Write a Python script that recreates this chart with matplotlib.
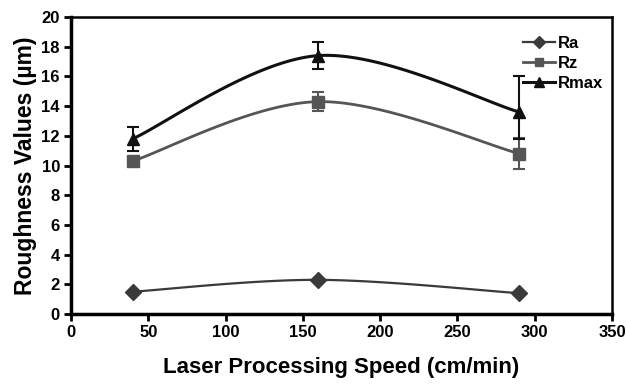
import matplotlib.pyplot as plt
import numpy as np

# data
speed = [40, 160, 290]
ra = [1.5, 2.3, 1.4]
rz = [10.3, 14.3, 10.8]
rmax = [11.8, 17.4, 13.6]
rz_err_lo = [0.0, 0.65, 1.05]
rz_err_hi = [0.0, 0.65, 1.05]
rmax_err_lo = [0.8, 0.9, 1.8]
rmax_err_hi = [0.8, 0.9, 2.4]

plt.rcParams['font.family'] = ['Liberation Sans', 'DejaVu Sans']
plt.rcParams['font.weight'] = 'bold'


def smooth(xs, ys, n=60):
    # excel style smoothed line (bezier with catmull-rom tangents)
    xs = np.asarray(xs, float)
    ys = np.asarray(ys, float)
    px = np.concatenate([[xs[0]], xs, [xs[-1]]])
    py = np.concatenate([[ys[0]], ys, [ys[-1]]])
    outx, outy = [], []
    t = np.linspace(0, 1, n)
    for i in range(1, len(px) - 2):
        p0 = np.array([px[i], py[i]])
        p3 = np.array([px[i + 1], py[i + 1]])
        p1 = p0 + (np.array([px[i + 1], py[i + 1]]) - np.array([px[i - 1], py[i - 1]])) / 6
        p2 = p3 - (np.array([px[i + 2], py[i + 2]]) - np.array([px[i], py[i]])) / 6
        b = ((1 - t) ** 3)[:, None] * p0 + (3 * (1 - t) ** 2 * t)[:, None] * p1 \
            + (3 * (1 - t) * t ** 2)[:, None] * p2 + (t ** 3)[:, None] * p3
        outx.extend(b[:, 0])
        outy.extend(b[:, 1])
    return outx, outy


fig = plt.figure(figsize=(6.26, 3.88), dpi=100)
ax = fig.add_axes([71 / 626, 74 / 388, 541 / 626, 297 / 388])

series = [
    (ra, None, None, 'D', '#3a3a3a', 1.6, 8, 'Ra'),
    (rz, rz_err_lo, rz_err_hi, 's', '#555555', 2.0, 8, 'Rz'),
    (rmax, rmax_err_lo, rmax_err_hi, '^', '#111111', 2.2, 9, 'Rmax'),
]
for vals, lo, hi, mk, col, lw, ms, name in series:
    sx, sy = smooth(speed, vals)
    ax.plot(sx, sy, color=col, lw=lw, zorder=2)
    if lo is not None:
        ax.errorbar(speed, vals, yerr=[lo, hi], fmt='none', ecolor=col,
                    elinewidth=1.5, capsize=4, capthick=1.5, zorder=3)
    ax.plot(speed, vals, linestyle='none', marker=mk, color=col, ms=ms, zorder=4)
    ax.plot([], [], color=col, lw=lw, marker=mk, ms=ms - 2, label=name)

ax.set_xlim(0, 350)
ax.set_ylim(0, 20)
ax.set_xticks(np.arange(0, 351, 50))
ax.set_yticks(np.arange(0, 21, 2))
ax.tick_params(direction='out', length=5, width=2, labelsize=12, pad=3)
for lab in ax.get_xticklabels() + ax.get_yticklabels():
    lab.set_fontweight('bold')
for s in ['left', 'bottom']:
    ax.spines[s].set_linewidth(2.5)
for s in ['top', 'right']:
    ax.spines[s].set_linewidth(1.8)

ax.set_xlabel('Laser Processing Speed (cm/min)', fontsize=16, fontweight='bold', labelpad=12)
ax.set_ylabel('Roughness Values (\u00b5m)', fontsize=16.5, fontweight='bold', labelpad=3)

leg = ax.legend(loc='upper right', frameon=False, fontsize=12, handlelength=1.9,
                handletextpad=0.15, labelspacing=0.3, borderaxespad=0.0,
                bbox_to_anchor=(0.995, 0.96))
for t in leg.get_texts():
    t.set_fontweight('bold')

fig.savefig('out.png', dpi=100)
